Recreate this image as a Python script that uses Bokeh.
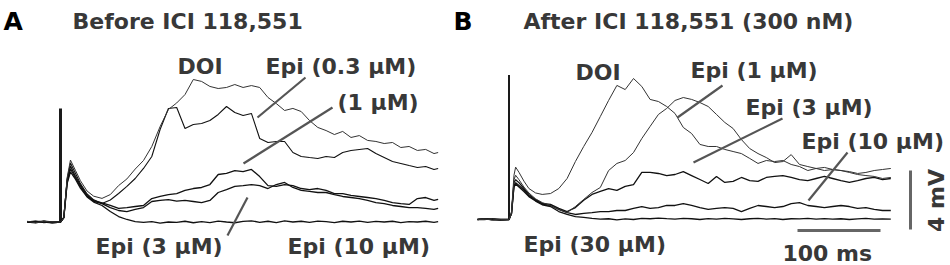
import math
from bokeh.plotting import figure
from bokeh.models import Range1d, Label
from bokeh.embed import file_html
from bokeh.resources import INLINE

# ---------------- data (time in ms after stimulus, depolarisation in mV) ----------------
T_A = [-40, -30, -20, -10, 0, 4, 8, 12, 18, 24, 32, 40,
       50, 60, 70, 80, 90, 100, 110, 120, 130, 140, 150, 160, 170, 180, 190,
       200, 210, 220, 230, 240, 250, 260, 270, 280, 290, 300, 310, 320, 330, 340,
       350, 360, 370, 380, 390, 400, 410, 420, 430, 440, 450, 455]

A_DOI = [0.05, -0.05, 0.05, 0.0, 0.0, 0.3, 3.0, 4.2, 3.5, 2.8, 2.1, 1.75,
         1.6, 1.86, 2.47, 2.92, 3.59, 4.17, 5.12, 6.47, 7.63, 8.07, 8.64, 9.66, 9.53, 9.19, 9.05,
         9.12, 9.32, 9.12, 9.25, 9.12, 8.44, 8.03, 7.56, 7.70, 7.49, 6.88, 6.41, 6.20, 5.93, 6.14,
         5.73, 5.86, 5.53, 5.46, 5.32, 5.39, 5.05, 5.12, 4.85, 4.92, 4.64, 4.71]
A_EPI_03 = [0.0, 0.05, -0.05, 0.0, 0.0, 0.3, 2.9, 4.0, 3.3, 2.6, 1.9, 1.5,
            1.25, 1.49, 1.93, 2.41, 2.95, 3.63, 4.44, 6.27, 7.70, 7.76, 6.34, 6.61, 6.68, 6.88, 7.29,
            7.83, 7.42, 7.22, 7.36, 5.66, 5.39, 5.46, 5.46, 4.71, 4.44, 4.37, 4.31, 4.44, 4.37, 4.71,
            4.85, 4.92, 4.98, 4.64, 4.37, 4.10, 3.97, 3.83, 3.70, 3.76, 3.56, 3.63]
A_EPI_1 = [0.0, -0.05, 0.05, 0.0, 0.0, 0.3, 2.8, 3.8, 3.1, 2.5, 1.8, 1.45,
           1.3, 1.12, 0.92, 0.98, 1.05, 1.12, 1.59, 1.73, 1.86, 1.93, 2.14, 2.27, 2.34, 2.54, 3.22,
           3.29, 3.49, 3.42, 3.56, 3.08, 2.47, 2.41, 2.54, 2.47, 2.27, 2.20, 2.27, 2.14, 1.93, 1.93,
           1.80, 1.73, 1.66, 1.59, 1.46, 1.32, 1.25, 1.19, 1.59, 1.66, 1.46, 1.53]
A_EPI_3 = [0.0, 0.0, 0.05, -0.05, 0.0, 0.3, 2.7, 3.6, 3.0, 2.4, 1.75, 1.4,
           1.25, 0.98, 0.78, 0.71, 0.85, 0.98, 1.39, 1.46, 1.52, 1.41, 1.46, 1.39, 1.32, 1.46, 2.00,
           2.20, 2.41, 2.47, 2.54, 2.47, 2.27, 2.54, 2.68, 2.34, 2.14, 2.07, 2.00, 2.00, 1.86, 1.73,
           1.66, 1.59, 1.46, 1.32, 1.25, 1.12, 1.05, 0.98, 0.98, 0.92, 0.85, 0.92]
A_EPI_10 = [0.0, 0.05, 0.0, -0.05, 0.0, 0.3, 2.6, 3.4, 2.9, 2.3, 1.7, 1.35,
            1.12, 0.71, 0.37, 0.17, 0.03, -0.03, 0.03, -0.07, 0.0, -0.03, 0.05, -0.05, 0.02, -0.04, 0.06,
            0.0, -0.05, 0.04, 0.08, -0.02, 0.05, -0.04, 0.07, 0.0, 0.05, -0.03, 0.06, 0.02, -0.04, 0.05,
            0.0, 0.06, -0.03, 0.04, 0.0, 0.05, -0.04, 0.03, 0.0, 0.05, -0.02, 0.03]

T_B = [-38, -30, -20, -10, 0, 3, 6, 8, 12, 18, 24, 32, 40,
       50, 60, 70, 80, 90, 100, 110, 120, 130, 140, 150, 160, 170, 180, 190,
       200, 210, 220, 230, 240, 250, 260, 270, 280, 290, 300, 310, 320, 330, 340,
       350, 360, 370, 380, 390, 400, 410, 420, 430, 440, 450, 460]

B_DOI = [0.0, 0.05, -0.05, 0.0, 0.0, 0.5, 3.0, 3.55, 3.2, 2.6, 2.1, 1.8, 1.7,
         1.76, 2.10, 2.78, 3.93, 4.95, 5.90, 6.98, 8.07, 9.09, 8.81, 9.56, 9.02, 8.14, 8.00, 7.66,
         7.19, 6.24, 5.83, 5.09, 4.95, 4.95, 4.75, 4.61, 4.47, 4.14, 3.80, 4.00, 3.93, 4.00, 3.73,
         3.59, 3.32, 3.46, 3.53, 3.39, 3.32, 3.25, 3.12, 3.19, 3.32, 3.39, 3.46]
B_EPI_1 = [0.0, 0.0, 0.05, -0.05, 0.0, 0.4, 2.7, 3.0, 2.7, 2.2, 1.8, 1.4, 1.15,
           0.95, 0.68, 0.47, 0.88, 1.36, 1.83, 2.17, 3.32, 3.80, 4.00, 4.54, 5.49, 6.31, 7.12, 7.53,
           8.07, 8.27, 8.14, 7.93, 7.66, 7.12, 6.58, 6.17, 5.42, 4.81, 4.47, 4.20, 3.86, 3.93, 4.40,
           3.73, 3.59, 3.46, 3.32, 3.39, 3.32, 3.19, 3.05, 2.98, 2.92, 2.78, 2.85]
B_EPI_3 = [0.0, 0.05, 0.0, 0.0, 0.0, 0.4, 2.5, 2.7, 2.5, 2.1, 1.7, 1.35, 1.1,
           1.02, 0.75, 0.54, 0.81, 1.30, 1.70, 1.90, 2.10, 1.97, 2.24, 2.37, 3.19, 3.19, 3.12, 2.98,
           3.05, 3.25, 2.98, 2.71, 2.44, 2.92, 2.51, 2.58, 2.85, 2.64, 2.58, 2.85, 2.92, 2.98, 2.85,
           2.71, 2.64, 2.78, 2.92, 2.78, 2.64, 2.51, 2.64, 2.78, 2.85, 2.71, 2.78]
B_EPI_10 = [0.0, 0.0, 0.05, 0.0, 0.0, 0.4, 2.3, 2.5, 2.3, 2.0, 1.6, 1.3, 1.05,
            0.95, 0.68, 0.47, 0.34, 0.41, 0.47, 0.54, 0.54, 0.61, 0.61, 0.75, 0.88, 0.75, 0.81, 0.95,
            0.95, 1.08, 0.95, 0.81, 0.68, 0.75, 0.81, 0.75, 0.54, 0.75, 0.95, 0.88, 0.81, 0.88, 1.08,
            1.15, 0.95, 0.88, 0.81, 0.88, 0.95, 0.88, 0.75, 0.81, 0.68, 0.61, 0.61]
B_EPI_30 = [0.0, 0.05, 0.0, -0.05, 0.0, 0.4, 2.2, 2.4, 2.2, 1.9, 1.55, 1.25, 1.0,
            0.88, 0.54, 0.34, 0.20, 0.14, 0.07, 0.02, 0.05, -0.02, 0.04, 0.0, 0.08, 0.05, 0.10, 0.06,
            0.03, 0.08, 0.05, 0.0, 0.06, 0.02, 0.07, 0.04, 0.0, 0.05, 0.08, 0.03, 0.06, 0.0, 0.05,
            0.04, 0.08, 0.02, 0.06, 0.03, 0.05, 0.0, 0.04, 0.07, 0.02, 0.04, 0.03]

ARTIFACT_A_MV = 7.7
ARTIFACT_B_MV = 9.8
SCALE_MS = 100
SCALE_MV = 4

for arr in (A_DOI, A_EPI_03, A_EPI_1, A_EPI_3, A_EPI_10):
    assert len(arr) == len(T_A)
for arr in (B_DOI, B_EPI_1, B_EPI_3, B_EPI_10, B_EPI_30):
    assert len(arr) == len(T_B)

# ---------------- layout (reference pixel positions -> data space) ----------------
PX_PER_MS = 0.83
PX_PER_MV = 14.75
A_STIM_X, A_BASE_Y = 60.0, 221.5
B_STIM_X, B_BASE_Y = 508.5, 219.0
W, H = 950, 265
TEXT_DY = 6  # rendered labels sit a few px below the requested baseline


def dx(xr):
    return (xr - A_STIM_X) / PX_PER_MS


def dy(yr):
    return (A_BASE_Y - yr) / PX_PER_MV


B_DX = dx(B_STIM_X)
B_DY = dy(B_BASE_Y)

p = figure(width=W, height=H, output_backend="svg", toolbar_location=None,
           x_range=Range1d(dx(0), dx(W)),
           y_range=Range1d(dy(H), dy(0)),
           x_axis_location=None, y_axis_location=None, min_border=0)
p.outline_line_color = None
p.grid.visible = False
p.background_fill_color = "white"
p.border_fill_color = "white"

TRACE = "#111111"

# stimulus artifacts
p.line([0, 0], [0, ARTIFACT_A_MV], line_color="#1a1a1a", line_width=3)
p.line([B_DX, B_DX], [B_DY, B_DY + ARTIFACT_B_MV], line_color="#1a1a1a", line_width=2)

# panel A traces
for vals, lw, col in ((A_EPI_10, 1.3, TRACE), (A_EPI_3, 1.3, TRACE), (A_EPI_1, 1.3, TRACE),
                      (A_EPI_03, 1.1, TRACE), (A_DOI, 1.0, "#333333")):
    p.line(T_A, vals, line_color=col, line_width=lw)

# panel B traces
for vals, lw, col in ((B_EPI_30, 1.3, TRACE), (B_EPI_10, 1.3, TRACE), (B_EPI_3, 1.3, TRACE),
                      (B_EPI_1, 1.0, "#333333"), (B_DOI, 1.0, "#333333")):
    p.line([t + B_DX for t in T_B], [v + B_DY for v in vals], line_color=col, line_width=lw)

# pointer lines (reference pixel coordinates)
POINTERS = [((305, 77), (257, 117)), ((332, 107), (243, 163)), ((247, 197), (227, 235)),
            ((722, 85), (677, 117)), ((782, 118), (693, 162)), ((847, 152), (808, 200))]
p.segment(x0=[dx(a[0]) for a, b in POINTERS], y0=[dy(a[1]) for a, b in POINTERS],
          x1=[dx(b[0]) for a, b in POINTERS], y1=[dy(b[1]) for a, b in POINTERS],
          line_color="#555555", line_width=2.2)

# scale bars
sx0, sy0 = dx(797), dy(230)
p.line([sx0, sx0 + SCALE_MS], [sy0, sy0], line_color="#666666", line_width=3)
vx, vy0 = dx(910), dy(229)
p.line([vx, vx], [vy0, vy0 + SCALE_MV], line_color="#666666", line_width=3)

TXT = "#383838"
LABELS = [
    ("A", 3, 27, "25px", "black"),
    ("Before ICI 118,551", 72, 27.3, "22px", TXT),
    ("B", 453, 27, "25px", "black"),
    ("After ICI 118,551 (300 nM)", 523, 27, "22px", TXT),
    ("DOI", 177, 71.5, "22px", TXT),
    ("Epi (0.3 µM)", 265, 71.5, "22px", TXT),
    ("(1 µM)", 337, 108, "22px", TXT),
    ("Epi (3 µM)", 95, 251.5, "22px", TXT),
    ("Epi (10 µM)", 287, 251.5, "22px", TXT),
    ("DOI", 575, 78, "22px", TXT),
    ("Epi (1 µM)", 690, 76, "22px", TXT),
    ("Epi (3 µM)", 745, 113, "22px", TXT),
    ("Epi (10 µM)", 801, 146.5, "22px", TXT),
    ("Epi (30 µM)", 523, 250, "22px", TXT),
    ("%d ms" % SCALE_MS, 782, 259, "22px", TXT),
]
for text, xr, yr, size, col in LABELS:
    p.add_layout(Label(x=dx(xr), y=dy(yr - TEXT_DY), text=text, text_font="DejaVu Sans",
                       text_font_style="bold", text_font_size=size, text_color=col,
                       text_align="left", text_baseline="alphabetic"))

p.add_layout(Label(x=dx(936), y=dy(200), text="%d mV" % SCALE_MV, angle=math.pi / 2,
                   text_font="DejaVu Sans", text_font_style="bold", text_font_size="22px",
                   text_color=TXT, text_align="center", text_baseline="middle"))

open("out.html", "w").write(file_html(p, INLINE))
